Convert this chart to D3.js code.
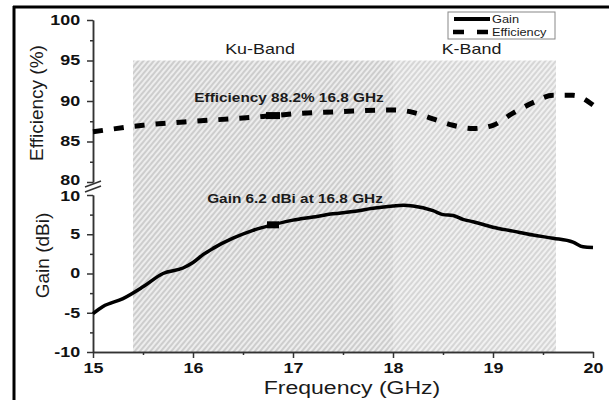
<!DOCTYPE html>
<html>
<head>
<meta charset="utf-8">
<script src="https://cdn.jsdelivr.net/npm/d3@7"></script>
<style>
  body { margin: 0; background: #fff; }
  svg { display: block; }
  text { font-family: "Liberation Sans", Arial, sans-serif; }
</style>
</head>
<body>
<div id="chart"></div>
<script>
// Values
let gainFreq = [15.0, 15.1, 15.3, 15.5, 15.7, 15.9, 16.0, 16.1, 16.2, 16.4, 16.6, 16.8, 17.0, 17.2, 17.4, 17.6, 17.8, 18.0, 18.1, 18.2, 18.4, 18.5, 18.6, 18.7, 18.8, 19.0, 19.2, 19.4, 19.6, 19.8, 19.9, 20.0];
let gainVals = [-5.1, -4.2, -3.2, -1.7, 0.0, 0.7, 1.4, 2.4, 3.2, 4.5, 5.5, 6.2, 6.8, 7.2, 7.6, 7.9, 8.3, 8.6, 8.7, 8.6, 8.0, 7.5, 7.4, 6.9, 6.6, 5.9, 5.4, 4.9, 4.5, 4.0, 3.4, 3.3];

let effFreq = [15.0, 15.5, 16.0, 16.5, 16.8, 17.0, 17.5, 18.0, 18.2, 18.4, 18.6, 18.8, 19.0, 19.2, 19.4, 19.6, 19.8, 20.0];
let effVals = [86.2, 87.0, 87.5, 87.9, 88.2, 88.4, 88.7, 88.9, 88.6, 87.8, 87.0, 86.6, 87.0, 88.5, 89.8, 90.7, 90.7, 89.5];

let xTicks = [15, 16, 17, 18, 19, 20];
let effTicks = [80, 85, 90, 95, 100];
let gainTicks = [-10, -5, 0, 5, 10];

let bandNames = ["Ku-Band", "K-Band"];
let bandEdges = [15.4, 18, 19.63];
let bandTop = 95;   // efficiency value where the shading stops

let markFreq = 16.8;
let markEff = 88.2;
let markGain = 6.2;

// svg attributes
let svgWidth = 609;
let svgHeight = 400;
let XS = 1.28;   // the picture's text is stretched sideways

let svg = d3.select("#chart")
  .append("svg")
  .attr("width", svgWidth)
  .attr("height", svgHeight);

let defs = svg.append("defs");
function hatch(id, bg, line) {
  let p = defs.append("pattern")
    .attr("id", id)
    .attr("patternUnits", "userSpaceOnUse")
    .attr("width", 4).attr("height", 4)
    .attr("patternTransform", "rotate(40)");
  p.append("rect").attr("width", 4).attr("height", 4).attr("fill", bg);
  p.append("line").attr("x1", 1).attr("y1", 0).attr("x2", 1).attr("y2", 4)
    .attr("stroke", line).attr("stroke-width", 1.2);
}
hatch("hatchKu", "#ededed", "#b8b8b8");
hatch("hatchK", "#f1f1f1", "#c4c4c4");

// Scales
let xScale = d3.scaleLinear().domain([15, 20]).range([93, 593]);
let effScale = d3.scaleLinear().domain([80, 100]).range([182, 20]);
let gainScale = d3.scaleLinear().domain([-10, 10]).range([352, 195]);

// Shaded bands
svg.selectAll("rect.band")
  .data(bandNames)
  .enter()
  .append("rect")
  .attr("class", "band")
  .attr("x", (d, i) => xScale(bandEdges[i]))
  .attr("width", (d, i) => xScale(bandEdges[i + 1]) - xScale(bandEdges[i]))
  .attr("y", effScale(bandTop))
  .attr("height", gainScale(-10) - effScale(bandTop))
  .attr("fill", (d, i) => i == 0 ? "url(#hatchKu)" : "url(#hatchK)");

// stretched text helper
function label(x, y, str, size, weight, anchor) {
  return svg.append("text")
    .attr("transform", `translate(${x},${y}) scale(${XS},1)`)
    .attr("font-size", size)
    .attr("font-weight", weight)
    .attr("text-anchor", anchor)
    .attr("fill", "#1a1a1a")
    .text(str);
}

bandNames.forEach((name, i) => {
  label((xScale(bandEdges[i]) + xScale(bandEdges[i + 1])) / 2 - 3, 54, name, 14, "normal", "middle");
});

// Axes
function styleAxis(g) {
  g.select(".domain").attr("stroke", "#333").attr("stroke-width", 1.5);
  g.selectAll(".tick line").attr("stroke", "#333").attr("stroke-width", 1.5);
  g.selectAll("text")
    .attr("font-size", 14)
    .attr("font-weight", "bold")
    .attr("fill", "#111")
    .attr("font-family", "'Liberation Sans', Arial, sans-serif");
}
let plain = d => String(d);   // hyphen minus, like the picture

let halfX = d3.range(15.5, 20, 1);
svg.append("g")
  .attr("transform", `translate(0,${gainScale(-10)})`)
  .call(d3.axisBottom(xScale).tickValues(halfX).tickSize(3).tickFormat("").tickSizeOuter(0))
  .call(styleAxis);
let xAxis = svg.append("g")
  .attr("transform", `translate(0,${gainScale(-10)})`)
  .call(d3.axisBottom(xScale).tickValues(xTicks).tickSize(6).tickSizeOuter(0).tickFormat(plain))
  .call(styleAxis);
xAxis.selectAll("text").attr("y", 11).attr("dy", "0.71em").attr("transform", `scale(${XS},1)`);

function yAxis(scale, ticks, minor, nudge) {
  svg.append("g")
    .attr("transform", `translate(${xScale(15)},0)`)
    .call(d3.axisLeft(scale).tickValues(minor).tickSize(3).tickFormat("").tickSizeOuter(0))
    .call(styleAxis);
  let g = svg.append("g")
    .attr("transform", `translate(${xScale(15)},0)`)
    .call(d3.axisLeft(scale).tickValues(ticks).tickSize(6).tickSizeOuter(0).tickFormat(plain))
    .call(styleAxis);
  g.selectAll("text")
    .attr("x", -10)
    .attr("y", d => nudge(d))
    .attr("transform", `scale(${XS},1)`);
}
// the 80 and 10 labels sit right on top of each other at the break
yAxis(effScale, effTicks, [82.5, 87.5, 92.5, 97.5], d => d == 80 ? -2 : 0);
yAxis(gainScale, gainTicks, [-7.5, -2.5, 2.5, 7.5], d => d == 10 ? 1.5 : 0);

// axis break marks
[184, 189].forEach(y => {
  svg.append("line")
    .attr("x1", xScale(15) - 8).attr("y1", y + 3)
    .attr("x2", xScale(15) + 8).attr("y2", y - 3)
    .attr("stroke", "#333").attr("stroke-width", 1.5);
});

// Axis titles
label(352, 394, "Frequency (GHz)", 18, "normal", "middle");
svg.append("text")
  .attr("transform", `translate(43,${(effScale(80) + effScale(100)) / 2 + 2}) rotate(-90)`)
  .attr("font-size", 19).attr("text-anchor", "middle").attr("fill", "#1a1a1a")
  .text("Efficiency (%)");
svg.append("text")
  .attr("transform", `translate(49,${(gainScale(-10) + gainScale(10)) / 2 - 18}) rotate(-90)`)
  .attr("font-size", 19).attr("text-anchor", "middle").attr("fill", "#1a1a1a")
  .text("Gain (dBi)");

// Lines
let gainLine = d3.line()
  .x((d, i) => xScale(gainFreq[i]))
  .y(d => gainScale(d))
  .curve(d3.curveMonotoneX);
let effLine = d3.line()
  .x((d, i) => xScale(effFreq[i]))
  .y(d => effScale(d))
  .curve(d3.curveMonotoneX);

svg.append("path")
  .datum(gainVals)
  .attr("d", gainLine)
  .attr("fill", "none")
  .attr("stroke", "#000")
  .attr("stroke-width", 3.5);

svg.append("path")
  .datum(effVals)
  .attr("d", effLine)
  .attr("fill", "none")
  .attr("stroke", "#000")
  .attr("stroke-width", 5)
  .attr("stroke-dasharray", "10,11");

// Markers at 16.8 GHz
svg.append("rect")
  .attr("x", xScale(markFreq) - 7).attr("y", effScale(markEff) - 3.5)
  .attr("width", 14).attr("height", 7).attr("fill", "#000");
svg.append("rect")
  .attr("x", xScale(markFreq) - 6).attr("y", gainScale(markGain) - 3.5)
  .attr("width", 12).attr("height", 7).attr("fill", "#000");

label(xScale(markFreq) + 16, effScale(markEff) - 14, `Efficiency ${markEff}% ${markFreq} GHz`, 12, "bold", "middle");
label(xScale(markFreq) + 22, gainScale(markGain) - 22, `Gain ${markGain} dBi at ${markFreq} GHz`, 12, "bold", "middle");

// Legend
let legend = svg.append("g").attr("transform", "translate(448,12)");
legend.append("rect")
  .attr("width", 107).attr("height", 27)
  .attr("fill", "#fff").attr("stroke", "#888").attr("stroke-width", 1);
legend.append("line")
  .attr("x1", 6).attr("x2", 42).attr("y1", 7).attr("y2", 7)
  .attr("stroke", "#000").attr("stroke-width", 4);
legend.append("line")
  .attr("x1", 5).attr("x2", 43).attr("y1", 20).attr("y2", 20)
  .attr("stroke", "#000").attr("stroke-width", 4.5).attr("stroke-dasharray", "11,13");
[["Gain", 7], ["Efficiency", 20]].forEach(([t, y]) => {
  legend.append("text")
    .attr("transform", `translate(44,${y + 3.5}) scale(${XS},1)`)
    .attr("font-size", 10).attr("fill", "#1a1a1a")
    .text(t);
});

// frame lines of the picture
svg.append("line").attr("x1", 13).attr("x2", svgWidth).attr("y1", 7).attr("y2", 7)
  .attr("stroke", "#000").attr("stroke-width", 3);
svg.append("line").attr("x1", 14).attr("x2", 14).attr("y1", 6).attr("y2", svgHeight)
  .attr("stroke", "#000").attr("stroke-width", 3);
</script>
</body>
</html>
